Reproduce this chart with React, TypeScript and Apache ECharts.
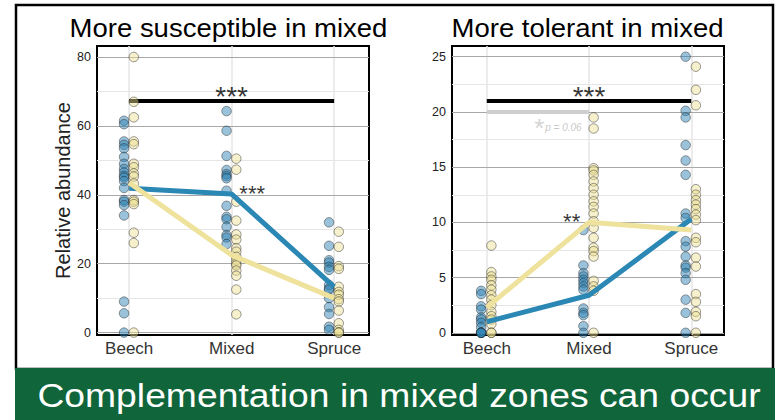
import React, { useEffect, useRef } from "react";
import * as echarts from "echarts";

const categories = ["Beech", "Mixed", "Spruce"];
const titles = ["More susceptible in mixed", "More tolerant in mixed"];
const yAxisName = "Relative abundance";
const bannerText = "Complementation in mixed zones can occur";

// ---- Left panel: more susceptible in mixed ----
const susTicks = [0, 20, 40, 60, 80];
const susMinor = [10, 30, 50, 70];
const susBlueBeech = [61.5, 60.5, 55.5, 54.5, 53.5, 51, 49, 47.5, 46.5, 45.5, 45, 44, 42, 38.5, 38, 37, 34, 9, 5.6, 0];
const susBlueMixed = [64.3, 58.6, 51.3, 47.2, 46, 45.4, 44.8, 41.2, 36.8, 33.6, 32.9, 30.7, 28.3, 27.6, 25.7];
const susBlueSpruce = [32, 25.2, 21, 20.3, 19.1, 18.2, 13.8, 12.8, 12.4, 10, 7.4, 5.4, 1.7, 0.8];
const susYellowBeech = [80, 67, 62.5, 55.5, 54.7, 49, 48, 46.2, 45.3, 43.3, 38.5, 38, 37.3, 29, 26, 0];
const susYellowMixed = [50.5, 47.3, 38, 32.5, 28.5, 27, 24.5, 23.5, 22, 21, 20, 19.5, 18, 16.5, 12.5, 5.3];
const susYellowSpruce = [29.3, 24.9, 19.3, 18.5, 13.3, 11.8, 11, 9.7, 9, 6.4, 2.7, 0.8, 0, 0];
const susBlueMeans = [41.9, 40.2, 13.3];
const susYellowMeans = [43.5, 22.5, 10];
const susSigBar = [1, 3, 67.2];
const susStars = [
  { x: 2, y: 68.6, text: "***", big: true },
  { x: 2.2, y: 40.3, text: "***", big: false },
];

// ---- Right panel: more tolerant in mixed ----
const tolTicks = [0, 5, 10, 15, 20, 25];
const tolMinor = [2.5, 7.5, 12.5, 17.5, 22.5];
const tolBlueBeech = [3.8, 3.5, 2.4, 2.1, 1.4, 1.2, 0.9, 0.5, 0, 0, 0, 0];
const tolBlueMixed = [9.3, 6.1, 5.4, 5.1, 4.8, 4.5, 4.2, 3.9, 2.2, 1.8, 1.6, 0.6, 0];
const tolBlueSpruce = [25, 20.1, 19.5, 17, 15.6, 14.3, 10.8, 10.4, 8.3, 7.8, 6.9, 6.1, 5.9, 5.4, 4.8, 3.0, 1.8, 0];
const tolYellowBeech = [7.9, 5.5, 5.1, 4.8, 4.3, 3.9, 3.4, 3.0, 2.5, 1.9, 1.5, 1.2, 0.8, 0, 0];
const tolYellowMixed = [19.5, 18.5, 14.9, 14.7, 14.3, 13.7, 13.1, 12.5, 11.9, 11.4, 10.8, 10.1, 9.5, 8.6, 7.7, 7.4, 6.9, 4.7, 4.2, 3.8, 0];
const tolYellowSpruce = [24.1, 22, 20.6, 13, 12.5, 12, 11.6, 11.2, 10.7, 10.2, 8.6, 8.2, 6.8, 6.0, 3.5, 2.8, 1.9, 1.5, 0];
const tolBlueMeans = [1.0, 3.4, 10.3];
const tolYellowMeans = [2.3, 10.0, 9.3];
const tolSigBar = [1, 3, 21];
const tolTrendBar = [1, 2, 20.05];
const tolStars = [
  { x: 2, y: 21.4, text: "***", big: true },
  { x: 1.83, y: 10.1, text: "**", big: false },
];
const tolTrendStar = { x: 1.515, y: 18.5, text: "*" };
const tolTrendP = { x: 1.75, y: 18.6, text: "p = 0.06" };

const FONT = "'Liberation Sans', Arial, Helvetica, sans-serif";
const BLUE_FILL = "rgba(44,130,180,0.6)";
const YELLOW_FILL = "rgba(236,222,145,0.58)";
const POINT_BORDER = "rgba(30,30,30,0.7)";
const BLUE_LINE = "#2b87b4";
const YELLOW_LINE = "#eee29c";

function groupPoints(groups: number[][], offset: number) {
  const out: number[][] = [];
  groups.forEach((vals, i) => {
    vals.forEach((v) => out.push([i + 1 + offset, v]));
  });
  return out;
}

function panelSeries(
  idx: number,
  blueGroups: number[][],
  yellowGroups: number[][],
  blueMeans: number[],
  yellowMeans: number[],
  ticks: number[],
  minor: number[],
  bars: { bar: number[]; color: string; width: number }[],
  stars: { x: number; y: number; text: string; big: boolean }[],
  offB: number,
  offY: number
) {
  const gridLines: any[] = [];
  minor.forEach((v) => gridLines.push({ yAxis: v, lineStyle: { color: "#e6e6e6", width: 1, type: "solid" } }));
  categories.forEach((_, i) => gridLines.push({ xAxis: i + 1, lineStyle: { color: "#e6e6e6", width: 1.5, type: "solid" } }));
  ticks.forEach((v) => gridLines.push({ yAxis: v, lineStyle: { color: "#a8a8a8", width: 1.2, type: "solid" } }));
  bars.forEach((b) =>
    gridLines.push([
      { coord: [b.bar[0], b.bar[2]], lineStyle: { color: b.color, width: b.width, type: "solid" } },
      { coord: [b.bar[1], b.bar[2]] },
    ])
  );
  return [
    {
      type: "scatter",
      xAxisIndex: idx,
      yAxisIndex: idx,
      data: [],
      silent: true,
      markLine: {
        z: 1,
        silent: true,
        animation: false,
        symbol: ["none", "none"],
        label: { show: false },
        lineStyle: { type: "solid" },
        emphasis: { disabled: true },
        data: gridLines,
      },
    },
    {
      type: "scatter",
      xAxisIndex: idx,
      yAxisIndex: idx,
      z: 2,
      symbolSize: 9.5,
      silent: true,
      itemStyle: { color: BLUE_FILL, borderColor: POINT_BORDER, borderWidth: 0.8 },
      data: groupPoints(blueGroups, offB),
    },
    {
      type: "scatter",
      xAxisIndex: idx,
      yAxisIndex: idx,
      z: 2,
      symbolSize: 9.5,
      silent: true,
      itemStyle: { color: YELLOW_FILL, borderColor: POINT_BORDER, borderWidth: 0.8 },
      data: groupPoints(yellowGroups, offY),
    },
    {
      type: "line",
      xAxisIndex: idx,
      yAxisIndex: idx,
      z: 4,
      symbol: "none",
      silent: true,
      lineStyle: { color: BLUE_LINE, width: 5 },
      data: blueMeans.map((m, i) => [i + 1, m]),
    },
    {
      type: "line",
      xAxisIndex: idx,
      yAxisIndex: idx,
      z: 5,
      symbol: "none",
      silent: true,
      lineStyle: { color: YELLOW_LINE, width: 5 },
      data: yellowMeans.map((m, i) => [i + 1, m]),
    },
    {
      type: "scatter",
      xAxisIndex: idx,
      yAxisIndex: idx,
      z: 6,
      symbolSize: 0,
      silent: true,
      data: stars.map((s) => ({
        value: [s.x, s.y],
        label: {
          show: true,
          position: "inside",
          formatter: s.text,
          fontSize: s.big ? 28 : 22,
          color: "#000",
          fontFamily: FONT,
        },
      })),
    },
  ];
}

export default function App() {
  const ref = useRef<HTMLDivElement>(null);
  useEffect(() => {
    document.body.style.margin = "0";
    if (!ref.current) return;
    const chart = echarts.init(ref.current, null, { renderer: "svg" });

    const xAxisCommon = (gridIndex: number, min: number, max: number) => ({
      gridIndex,
      type: "value",
      min,
      max,
      axisLine: { show: false },
      axisTick: { show: false },
      splitLine: { show: false },
      axisLabel: {
        customValues: [1, 2, 3],
        formatter: (v: number) => categories[Math.round(v) - 1] ?? "",
        fontSize: 17,
        color: "#333",
        margin: 5,
        fontFamily: FONT,
      },
    });
    const yAxisCommon = (gridIndex: number, min: number, max: number, ticks: number[]) => ({
      gridIndex,
      type: "value",
      min,
      max,
      axisLine: { show: false },
      axisTick: { show: false },
      splitLine: { show: false },
      axisLabel: {
        customValues: ticks,
        fontSize: 12.5,
        color: "#222",
        margin: 6,
        fontFamily: FONT,
      },
    });

    const option: any = {
      animation: false,
      backgroundColor: "#fff",
      grid: [
        { left: 97, top: 46, width: 272, height: 289, show: true, borderColor: "#000", borderWidth: 2, backgroundColor: "transparent" },
        { left: 452, top: 46, width: 272, height: 289, show: true, borderColor: "#000", borderWidth: 2, backgroundColor: "transparent" },
      ],
      xAxis: [xAxisCommon(0, 0.686, 3.34), xAxisCommon(1, 0.66, 3.32)],
      yAxis: [
        {
          ...yAxisCommon(0, -0.7, 83.2, susTicks),
          name: yAxisName,
          nameLocation: "middle",
          nameGap: 24,
          nameTextStyle: { fontSize: 20, color: "#222", fontFamily: FONT },
        },
        yAxisCommon(1, -0.2, 25.97, tolTicks),
      ],
      series: [
        ...panelSeries(
          0,
          [susBlueBeech, susBlueMixed, susBlueSpruce],
          [susYellowBeech, susYellowMixed, susYellowSpruce],
          susBlueMeans,
          susYellowMeans,
          susTicks,
          susMinor,
          [{ bar: susSigBar, color: "#000", width: 4 }],
          susStars,
          -0.05,
          0.045
        ),
        ...panelSeries(
          1,
          [tolBlueBeech, tolBlueMixed, tolBlueSpruce],
          [tolYellowBeech, tolYellowMixed, tolYellowSpruce],
          tolBlueMeans,
          tolYellowMeans,
          tolTicks,
          tolMinor,
          [
            { bar: tolTrendBar, color: "#cfcfcf", width: 4 },
            { bar: tolSigBar, color: "#000", width: 4 },
          ],
          tolStars,
          -0.055,
          0.045
        ),
        {
          type: "scatter",
          xAxisIndex: 1,
          yAxisIndex: 1,
          z: 6,
          symbolSize: 0,
          silent: true,
          data: [
            {
              value: [tolTrendStar.x, tolTrendStar.y],
              label: { show: true, position: "inside", formatter: tolTrendStar.text, fontSize: 26, color: "#c8c8c8", fontFamily: FONT },
            },
            {
              value: [tolTrendP.x, tolTrendP.y],
              label: { show: true, position: "inside", formatter: tolTrendP.text, fontSize: 10, fontStyle: "italic", color: "#b8b8b8", fontFamily: FONT },
            },
          ],
        },
      ],
      graphic: [
        {
          type: "rect",
          z: -1,
          shape: { x: 16, y: 5, width: 757, height: 364 },
          style: { fill: "none", stroke: "#000", lineWidth: 2.5 },
          silent: true,
        },
        {
          type: "rect",
          shape: { x: 15, y: 368, width: 760, height: 52 },
          style: { fill: "#10653a" },
          silent: true,
        },
        {
          type: "group",
          x: 399,
          y: 395,
          scaleX: 1.13,
          children: [
            {
              type: "text",
              style: { text: bannerText, fill: "#fff", fontSize: 33, fontFamily: FONT, align: "center", verticalAlign: "middle" },
            },
          ],
        },
        {
          type: "group",
          x: 228.5,
          y: 28,
          scaleX: 1.1,
          children: [
            {
              type: "text",
              style: { text: titles[0], fill: "#000", fontSize: 25, fontFamily: FONT, align: "center", verticalAlign: "middle" },
            },
          ],
        },
        {
          type: "group",
          x: 587.5,
          y: 28,
          scaleX: 1.1,
          children: [
            {
              type: "text",
              style: { text: titles[1], fill: "#000", fontSize: 25, fontFamily: FONT, align: "center", verticalAlign: "middle" },
            },
          ],
        },
      ],
    };
    chart.setOption(option);
    return () => chart.dispose();
  }, []);
  return <div ref={ref} style={{ width: 780, height: 420, position: "absolute", left: 0, top: 0 }} />;
}
